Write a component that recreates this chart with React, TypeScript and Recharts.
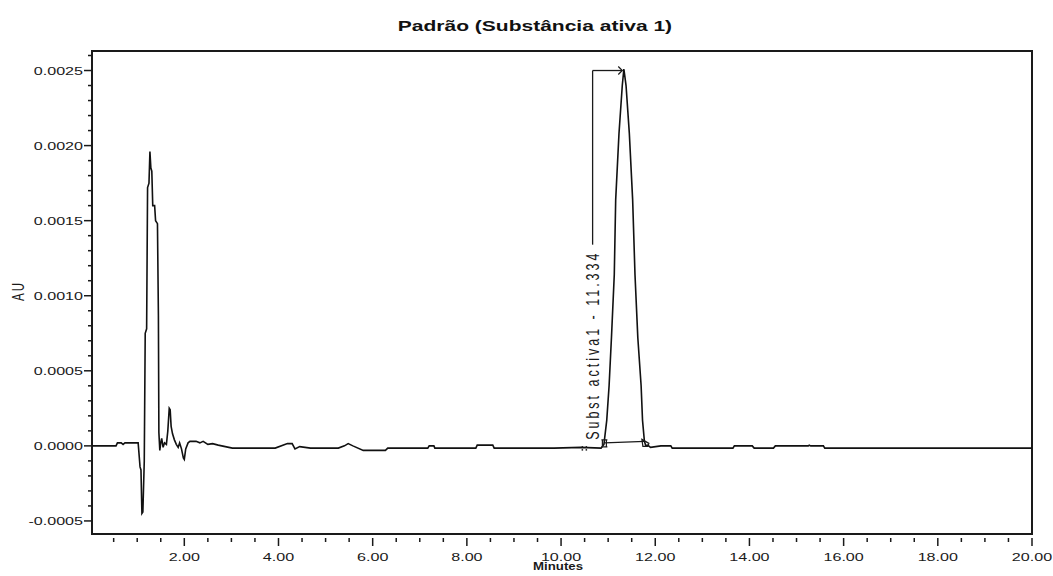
import React from "react";
import {
  LineChart,
  Line,
  XAxis,
  YAxis,
  ReferenceArea,
  ReferenceLine,
  ReferenceDot,
} from "recharts";

// Chromatogram trace: retention time (min) and absorbance (AU)
const times = [
  0.04, 0.55, 0.58, 0.66, 0.7, 0.74, 0.95, 1.02, 1.06, 1.08, 1.1, 1.12, 1.15, 1.17, 1.2, 1.22,
  1.25, 1.27, 1.29, 1.31, 1.33, 1.37, 1.39, 1.43, 1.45, 1.46, 1.48, 1.5, 1.52, 1.55, 1.58, 1.62,
  1.65, 1.68, 1.7, 1.72, 1.75, 1.79, 1.83, 1.87, 1.9, 1.94, 1.98, 2.0, 2.03, 2.08, 2.12, 2.25,
  2.33, 2.4, 2.5, 2.6, 2.72, 3.02, 3.93, 4.19, 4.29, 4.35, 4.45, 4.68, 5.27, 5.4, 5.48, 5.58,
  5.8, 6.27, 6.32, 7.17, 7.2, 7.3, 7.32, 8.19, 8.22, 8.55, 8.58, 9.85, 10.42, 10.85, 10.91,
  10.97, 11.02, 11.07, 11.13, 11.16, 11.23, 11.3, 11.334, 11.38, 11.45, 11.52, 11.57, 11.63,
  11.7, 11.73, 11.77, 11.8, 11.84, 11.9, 12.12, 12.33, 12.36, 13.65, 13.68, 14.06, 14.1, 14.51,
  14.55, 15.25, 15.27, 15.3, 15.57, 15.6, 20.0,
];
const absorbance = [
  0.0, 0.0, 0.00002, 0.00002, 0.00001, 0.00002, 0.00002, 0.00002, -0.00014, -0.00016, -0.00045,
  -0.00044, -0.0001, 0.00075, 0.00078, 0.00172, 0.00175, 0.00196, 0.00185, 0.00183, 0.0016,
  0.0016, 0.0015, 0.00148, 0.00087, 0.00009, -0.00003, 0.00002, 0.00005, -0.00001, 0.00002,
  0.00001, 0.0001, 0.00025, 0.00024, 0.00013, 0.00008, 0.00004, 0.00001, -0.00001, 0.00002,
  -0.00002, -0.00008, -0.00009, -0.00002, 0.00002, 0.00003, 0.00003, 0.00002, 0.00003, 0.00001,
  0.000015, 0.000005, -0.000015, -0.000015, 0.000015, 0.000015, -0.00002, -0.000005, -0.000015,
  -0.000015, 0.0, 0.000015, 0.0, -0.00003, -0.00003, -0.000015, -0.000015, 0.0, 0.0,
  -0.000015, -0.000015, 0.000005, 0.000005, -0.000015, -0.000015, -0.00001, -0.000015, 0.00001,
  0.00017, 0.0004, 0.00072, 0.00114, 0.00164, 0.00208, 0.0024, 0.00251, 0.0024, 0.00208,
  0.00164, 0.00114, 0.00072, 0.0004, 0.00017, 0.00003, 0.0, 0.000005, -0.00001, 0.0,
  0.0, -0.000015, -0.000015, 0.0, 0.0, -0.000015, -0.000015, 0.0, 0.0,
  0.000005, 0.0, 0.0, -0.000015, -0.000015,
];

// Integrated peak
const peakName = "Subst activa1";
const peakRT = 11.334;
const peakStart = { t: 10.92, v: 0.00002 };
const peakEnd = { t: 11.78, v: 0.00003 };
const labelAnchor = { t: 10.67, vBottom: 0.00004, vTop: 0.00134, vBracket: 0.0025 };
const arrowTip = 11.3;
const minorMarkT = 10.5;

// Axes
const xDomain = [0.04, 20];
const yDomain = [-0.000587, 0.00263];
const xMajor = [2, 4, 6, 8, 10, 12, 14, 16, 18, 20];
const yMajor = [-0.0005, 0, 0.0005, 0.001, 0.0015, 0.002, 0.0025];
const xTicks = Array.from({ length: 40 }, (_, i) => (i + 1) / 2);
const yTicks = Array.from({ length: 32 }, (_, i) => (i - 5) / 10000);
const xTitle = "Minutes";
const yTitle = "AU";

const data = times.map((t, i) => ({ t, v: absorbance[i] }));

const FONT = '"Liberation Sans", Arial, sans-serif';
const INK = "#1a1a1a";
const STRETCH = 1.4;

const isXMajor = (v: number) => xMajor.some((m) => Math.abs(m - v) < 1e-6);
const isYMajor = (v: number) => yMajor.some((m) => Math.abs(m - v) < 1e-9);

function XTick({ x, y, payload }: any) {
  const major = isXMajor(payload.value);
  return (
    <g>
      <line x1={x} x2={x} y1={y + 4} y2={y + (major ? 12 : 8)} stroke={INK} strokeWidth={1.5} />
      {major && (
        <text
          transform={`translate(${x},${y + 27}) scale(${STRETCH},1)`}
          textAnchor="middle"
          fontSize={11.5}
          fontFamily={FONT}
          fill={INK}
        >
          {payload.value.toFixed(2)}
        </text>
      )}
    </g>
  );
}

function YTick({ x, y, payload }: any) {
  const major = isYMajor(payload.value);
  const label = Math.abs(payload.value) < 1e-9 ? "0.0000" : payload.value.toFixed(4);
  return (
    <g>
      <line x1={x - (major ? 8 : 4)} x2={x} y1={y} y2={y} stroke={INK} strokeWidth={1.5} />
      {major && (
        <text
          transform={`translate(${x - 9},${y + 4}) scale(${STRETCH},1)`}
          textAnchor="end"
          fontSize={11.5}
          fontFamily={FONT}
          fill={INK}
        >
          {label}
        </text>
      )}
    </g>
  );
}

// axis band: x/y of the XAxis area, title sits under the 10.00 tick
function AxisTitleX({ viewBox }: any) {
  const cx = viewBox.x + viewBox.width * ((10 - xDomain[0]) / (xDomain[1] - xDomain[0])) - 3;
  return (
    <text
      transform={`translate(${cx},${viewBox.y + 36}) scale(1.15,1)`}
      textAnchor="middle"
      fontSize={11.5}
      fontWeight="bold"
      fontFamily={FONT}
      fill={INK}
    >
      {xTitle}
    </text>
  );
}

function AxisTitleY({ viewBox }: any) {
  return (
    <text
      transform={`translate(${viewBox.x + 24},${viewBox.y + 240}) scale(${STRETCH},1) rotate(-90)`}
      textAnchor="middle"
      fontSize={11.5}
      letterSpacing={2}
      fontFamily={FONT}
      fill={INK}
    >
      {yTitle}
    </text>
  );
}

const PeakLabel = ({ cx, cy }: any) => (
  <text
    transform={`translate(${cx + 6},${cy}) scale(${STRETCH},1) rotate(-90)`}
    textAnchor="start"
    fontSize={12.5}
    letterSpacing={3}
    fontFamily={FONT}
    fill={INK}
  >
    {`${peakName} - ${peakRT.toFixed(3)}`}
  </text>
);

const ArrowHead = ({ cx, cy }: any) => (
  <path d={`M${cx - 4},${cy - 4} L${cx},${cy} L${cx - 4},${cy + 4}`} fill="none" stroke={INK} strokeWidth={1.2} />
);

const StartMark = ({ cx, cy }: any) => (
  <path
    d={`M${cx - 3},${cy - 3} H${cx + 3} M${cx - 2},${cy - 3} V${cy + 4} M${cx + 2},${cy - 3} V${cy + 4} M${cx - 3},${cy + 4} H${cx + 3}`}
    fill="none"
    stroke={INK}
    strokeWidth={1.2}
  />
);

const EndMark = ({ cx, cy }: any) => (
  <path d={`M${cx - 3},${cy - 2} L${cx + 4},${cy + 2} L${cx + 3},${cy + 5} L${cx - 2},${cy + 5} Z`} fill="none" stroke={INK} strokeWidth={1.2} />
);

const DotsMark = ({ cx, cy }: any) => (
  <g fill={INK}>
    <rect x={cx - 3} y={cy - 2} width={1.5} height={1.5} />
    <rect x={cx - 3} y={cy + 1} width={1.5} height={1.5} />
    <rect x={cx + 1} y={cy - 2} width={1.5} height={1.5} />
    <rect x={cx + 1} y={cy + 1} width={1.5} height={1.5} />
  </g>
);

export default function App() {
  return (
    <div style={{ position: "absolute", left: 0, top: 0, width: 1053, height: 576, background: "#fff" }}>
      <div
        style={{
          position: "absolute",
          left: 8,
          top: 17,
          width: 1053,
          textAlign: "center",
          fontFamily: FONT,
          fontWeight: "bold",
          fontSize: 15,
          lineHeight: "18px",
          color: "#111",
        }}
      >
        <span style={{ display: "inline-block", transform: `scaleX(${STRETCH})` }}>
          Padrão (Substância ativa 1)
        </span>
      </div>
      <LineChart width={1053} height={576} data={data} margin={{ top: 51, right: 21, bottom: 0, left: 0 }}>
        <XAxis
          type="number"
          dataKey="t"
          domain={xDomain}
          ticks={xTicks}
          interval={0}
          tickSize={0}
          tickMargin={0}
          axisLine={false}
          tickLine={false}
          tick={(p: any) => <XTick {...p} />}
          height={42}
          allowDataOverflow
          label={(p: any) => <AxisTitleX {...p} />}
        />
        <YAxis
          type="number"
          domain={yDomain}
          ticks={yTicks}
          interval={0}
          tickSize={0}
          tickMargin={0}
          axisLine={false}
          tickLine={false}
          tick={(p: any) => <YTick {...p} />}
          width={92}
          allowDataOverflow
          label={(p: any) => <AxisTitleY {...p} />}
        />
        <ReferenceArea
          x1={xDomain[0]}
          x2={xDomain[1]}
          y1={yDomain[0]}
          y2={yDomain[1]}
          fill="none"
          stroke={INK}
          strokeWidth={2}
          ifOverflow="visible"
        />
        <ReferenceLine
          segment={[
            { x: labelAnchor.t, y: labelAnchor.vTop },
            { x: labelAnchor.t, y: labelAnchor.vBracket },
          ]}
          stroke={INK}
          strokeWidth={1.3}
        />
        <ReferenceLine
          segment={[
            { x: labelAnchor.t, y: labelAnchor.vBracket },
            { x: arrowTip, y: labelAnchor.vBracket },
          ]}
          stroke={INK}
          strokeWidth={1.3}
        />
        <ReferenceLine
          segment={[
            { x: peakStart.t, y: peakStart.v },
            { x: peakEnd.t, y: peakEnd.v },
          ]}
          stroke={INK}
          strokeWidth={1.3}
        />
        <ReferenceDot x={arrowTip} y={labelAnchor.vBracket} r={0} shape={(p: any) => <ArrowHead {...p} />} />
        <ReferenceDot x={labelAnchor.t} y={labelAnchor.vBottom} r={0} shape={(p: any) => <PeakLabel {...p} />} />
        <ReferenceDot x={peakStart.t} y={peakStart.v} r={0} shape={(p: any) => <StartMark {...p} />} />
        <ReferenceDot x={peakEnd.t} y={peakEnd.v} r={0} shape={(p: any) => <EndMark {...p} />} />
        <ReferenceDot x={minorMarkT} y={-0.000015} r={0} shape={(p: any) => <DotsMark {...p} />} />
        <Line
          type="linear"
          dataKey="v"
          stroke="#111"
          strokeWidth={1.6}
          dot={false}
          isAnimationActive={false}
        />
      </LineChart>
    </div>
  );
}
